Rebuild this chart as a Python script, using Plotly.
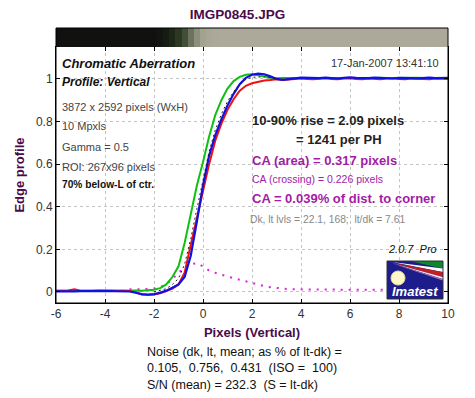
import plotly.graph_objects as go

# ---------------- data ----------------
x_px = [-6.0, -5.75, -5.5, -5.25, -5.0, -4.75, -4.5, -4.25, -4.0, -3.75, -3.5, -3.25,
        -3.0, -2.75, -2.5, -2.25, -2.0, -1.75, -1.5, -1.25, -1.0, -0.75, -0.5, -0.25,
        0.0, 0.25, 0.5, 0.75, 1.0, 1.25, 1.5, 1.75, 2.0, 2.25, 2.5, 2.75,
        3.0, 3.25, 3.5, 3.75, 4.0, 4.25, 4.5, 4.75, 5.0, 5.25, 5.5, 5.75,
        6.0, 6.25, 6.5, 6.75, 7.0, 7.25, 7.5, 7.75, 8.0, 8.25, 8.5, 8.75,
        9.0, 9.25, 9.5, 9.75, 10.0]

green = [0.006, 0.005, 0.007, 0.006, 0.005, 0.006, 0.007, 0.006, 0.006, 0.007, 0.006, 0.007,
         0.008, 0.007, 0.006, 0.008, 0.010, 0.018, 0.035, 0.070, 0.120, 0.230, 0.370, 0.500,
         0.610, 0.730, 0.830, 0.900, 0.955, 0.990, 1.010, 1.020, 1.022, 1.018, 1.012, 1.006,
         1.003, 1.004, 1.006, 1.005, 1.004, 1.006, 1.005, 1.003, 1.004, 1.006, 1.005, 1.004,
         1.005, 1.006, 1.004, 1.003, 1.005, 1.006, 1.004, 1.005, 1.006, 1.004, 1.005, 1.006,
         1.005, 1.004, 1.006, 1.005, 1.004]

red = [0.006, 0.005, 0.007, 0.012, 0.006, 0.005, 0.006, 0.005, 0.006, 0.005, 0.006, 0.005,
       0.004, -0.002, -0.012, -0.014, -0.012, -0.006, 0.004, 0.015, 0.035, 0.090, 0.220, 0.350,
       0.480, 0.600, 0.710, 0.790, 0.855, 0.905, 0.945, 0.968, 0.980, 0.988, 0.993, 0.995,
       0.998, 0.995, 0.997, 1.000, 1.002, 1.000, 0.998, 1.001, 1.003, 1.000, 0.998, 1.002,
       1.003, 1.000, 0.999, 1.002, 1.001, 0.999, 1.002, 1.003, 1.000, 0.998, 1.002, 1.001,
       1.000, 0.999, 1.002, 1.001, 1.000]

blue = [0.003, 0.002, 0.004, 0.003, 0.004, 0.003, 0.004, 0.005, 0.004, 0.005, 0.004, 0.003,
        0.002, -0.004, -0.010, -0.012, -0.010, -0.004, 0.006, 0.020, 0.035, 0.070, 0.170, 0.330,
        0.500, 0.640, 0.735, 0.810, 0.875, 0.930, 0.975, 1.005, 1.020, 1.025, 1.022, 1.012,
        1.000, 0.996, 0.998, 1.003, 1.006, 1.005, 1.003, 1.004, 1.006, 1.004, 1.002, 1.005,
        1.007, 1.005, 1.003, 1.004, 1.006, 1.005, 1.003, 1.002, 1.005, 1.006, 1.004, 1.003,
        1.005, 1.006, 1.004, 1.003, 1.005]

mean_x = [-2.0, -1.5, -1.25, -1.0, -0.75, -0.5, -0.25, 0.0, 0.25, 0.5, 0.75, 1.0,
          1.25, 1.5, 1.75, 2.0, 2.5, 3.0]
mean_y = [0.0, 0.015, 0.035, 0.063, 0.13, 0.25, 0.39, 0.53, 0.66, 0.76, 0.835, 0.895,
          0.94, 0.975, 0.998, 1.008, 1.01, 1.0]

ca_x = [-3.0, -2.75, -2.5, -2.25, -2.0, -1.75, -1.5, -1.25, -1.0, -0.75, -0.5, -0.25,
        0.0, 0.25, 0.5, 0.75, 1.0, 1.25, 1.5, 1.75, 2.0, 2.25, 2.5, 2.75,
        3.0, 3.25, 3.5, 4.0, 4.5, 5.0, 5.5, 6.0, 6.5, 7.0, 7.5, 8.0]
ca_y = [0.012, 0.012, 0.013, 0.014, 0.016, 0.022, 0.035, 0.060, 0.090, 0.115, 0.130, 0.135,
        0.120, 0.100, 0.090, 0.080, 0.072, 0.065, 0.057, 0.049, 0.041, 0.034, 0.027, 0.022,
        0.018, 0.015, 0.013, 0.012, 0.011, 0.010, 0.010, 0.010, 0.010, 0.010, 0.010, 0.010]

bar_level = [0.0, 0.0, 0.0, 0.0, 0.0, 0.0, 0.0, 0.0, 0.0, 0.0, 0.0, 0.0,
             0.0, 0.0, 0.0, 0.0, 0.0, 0.02, 0.06, 0.12, 0.20, 0.32, 0.48, 0.65,
             0.80, 0.92, 0.98, 1.0, 1.0, 1.0, 1.0, 1.0, 1.0, 1.0, 1.0, 1.0,
             1.0, 1.0, 1.0, 1.0, 1.0, 1.0, 1.0, 1.0, 1.0, 1.0, 1.0, 1.0,
             1.0, 1.0, 1.0, 1.0, 1.0, 1.0, 1.0, 1.0, 1.0, 1.0, 1.0, 1.0,
             1.0, 1.0, 1.0, 1.0, 1.0]

x_ticks = [-6, -4, -2, 0, 2, 4, 6, 8, 10]
x_tick_text = ["-6", "-4", "-2", "0", "2", "4", "6", "8", "10"]
y_ticks = [0, 0.2, 0.4, 0.6, 0.8, 1]
y_tick_text = ["0", "0.2", "0.4", "0.6", "0.8", "1"]

# ---------------- layout helpers ----------------
W, H = 475, 398
L, R, T, B = 56, 448, 28, 303
BAR_BOTTOM = 47


def px(x):
    return (x - L) / (R - L)


def py(y):
    return (B - y) / (B - T)


FONT = "Liberation Sans, Arial, sans-serif"
PURPLE = "#4a0a4a"
MAG = "#a21ca6"

fig = go.Figure()

fig.add_trace(go.Heatmap(x=x_px, y=[0.5], z=[bar_level], xaxis="x2", yaxis="y2",
                         colorscale=[[0, "#111110"], [0.1, "#1a2414"], [0.3, "#3e4a34"],
                                     [0.55, "#7f8270"], [0.8, "#a3a291"], [1, "#aca99a"]],
                         zmin=0, zmax=1, showscale=False, hoverinfo="skip"))

fig.add_trace(go.Scatter(x=ca_x, y=ca_y, mode="lines",
                         line=dict(color="#e020e0", width=2, dash="2px,6px")))
fig.add_trace(go.Scatter(x=x_px, y=green, mode="lines", line=dict(color="#10c010", width=2)))
fig.add_trace(go.Scatter(x=x_px, y=red, mode="lines", line=dict(color="#f01010", width=2)))
fig.add_trace(go.Scatter(x=x_px, y=blue, mode="lines", line=dict(color="#1010e0", width=2.2)))
fig.add_trace(go.Scatter(x=mean_x, y=mean_y, mode="lines",
                         line=dict(color="#202020", width=1, dash="2px,3px")))

main_top = py(BAR_BOTTOM)

fig.update_layout(
    width=W, height=H,
    margin=dict(l=L, r=W - R, t=T, b=H - B, autoexpand=False),
    paper_bgcolor="white", plot_bgcolor="white",
    showlegend=False,
    font=dict(family=FONT, size=12, color="#333"),
    xaxis=dict(range=[-6, 10], tickvals=x_ticks, ticktext=x_tick_text, ticks="inside",
               ticklen=4, tickcolor="black", automargin=False,
               showline=True, linecolor="black", linewidth=1, mirror="ticks",
               showgrid=True, gridcolor="#c4c4c4", griddash="dot", zeroline=False,
               tickfont=dict(size=12, color="#333"), anchor="y",
               title=dict(text="<b>Pixels (Vertical)</b>", font=dict(size=13, color=PURPLE),
                          standoff=7)),
    yaxis=dict(range=[-0.052, 1.15], tickvals=y_ticks, ticktext=y_tick_text, ticks="inside",
               ticklen=4, automargin=False,
               tickcolor="black", showline=True, linecolor="black", linewidth=1,
               mirror="ticks", showgrid=True, gridcolor="#c4c4c4", griddash="dot",
               zeroline=False, domain=[0, main_top], tickfont=dict(size=12, color="#333"),
               title=dict(text="<b>Edge profile</b>", font=dict(size=13, color=PURPLE),
                          standoff=8)),
    xaxis2=dict(range=[-6, 10], matches="x", anchor="y2", visible=False),
    yaxis2=dict(range=[0, 1], domain=[main_top, 1], visible=False, anchor="x2"),
    title=dict(text="<b>IMGP0845.JPG</b>", x=0.5, xanchor="center", y=1 - 14 / H,
               yanchor="middle", font=dict(size=13.5, color=PURPLE)),
)

shapes = []
# outer frame around bar + plot
shapes.append(dict(type="rect", xref="paper", yref="paper", x0=0, x1=1, y0=0, y1=1,
                   line=dict(color="black", width=1), layer="above"))


def path(points):
    s = "M " + " L ".join(f"{px(a):.4f},{py(b):.4f}" for a, b in points) + " Z"
    return s


# Imatest logo
shapes.append(dict(type="rect", xref="paper", yref="paper", x0=px(387), x1=px(443),
                   y0=py(299), y1=py(261), fillcolor="#1c1c8c",
                   line=dict(color="#333", width=1), layer="above"))
shapes.append(dict(type="path", xref="paper", yref="paper",
                   path=path([(412, 261.5), (442.5, 261.5), (442.5, 268.5)]),
                   fillcolor="#0e8a2a", line=dict(width=0), layer="above"))
shapes.append(dict(type="path", xref="paper", yref="paper",
                   path=path([(392, 262), (442.5, 268.5), (442.5, 272)]),
                   fillcolor="#ffffff", line=dict(width=0), layer="above"))
shapes.append(dict(type="path", xref="paper", yref="paper",
                   path=path([(392, 262.5), (442.5, 272), (442.5, 277)]),
                   fillcolor="#c81e1e", line=dict(width=0), layer="above"))
shapes.append(dict(type="path", xref="paper", yref="paper",
                   path=path([(392, 263), (442.5, 277), (442.5, 279)]),
                   fillcolor="#f4e8f0", line=dict(width=0), layer="above"))
shapes.append(dict(type="path", xref="paper", yref="paper",
                   path=path([(392, 263.5), (442.5, 279), (442.5, 280.5)]),
                   fillcolor="#a070b0", line=dict(width=0), layer="above"))
shapes.append(dict(type="circle", xref="paper", yref="paper", x0=px(391), x1=px(405),
                   y0=py(285), y1=py(271), fillcolor="#fff8c8",
                   line=dict(color="#e8e0a0", width=1), layer="above"))
fig.update_layout(shapes=shapes)

ann = []


def text(x, y, s, size=11, color="#333", anchor="left", bold=False, italic=False):
    if bold:
        s = f"<b>{s}</b>"
    if italic:
        s = f"<i>{s}</i>"
    ann.append(dict(x=px(x), y=py(y), xref="paper", yref="paper", text=s, showarrow=False,
                    xanchor=anchor, yanchor="middle",
                    font=dict(size=size, color=color, family=FONT)))


text(60, 63, "Chromatic Aberration", size=13, color="#111", bold=True, italic=True)
text(60, 82, "Profile: Vertical", size=12, color="#111", bold=True, italic=True)
text(60, 107, "3872 x 2592 pixels (WxH)", size=11, color="#444")
text(60, 126, "10 Mpxls", size=11, color="#444")
text(60, 147, "Gamma = 0.5", size=11, color="#444")
text(60, 167, "ROI: 267x96 pixels", size=11, color="#444")
text(60, 184, "70% below-L of ctr.", size=10.2, color="#111", bold=True)
text(441, 63, "17-Jan-2007 13:41:10", size=11, color="#333", anchor="right")
text(250, 121, "10-90% rise = 2.09 pixels", size=13, color="#222", bold=True)
text(294, 139, "= 1241 per PH", size=13, color="#222", bold=True)
text(250, 160, "CA (area) = 0.317 pixels", size=13, color=MAG, bold=True)
text(250, 179, "CA (crossing) = 0.226 pixels", size=10.5, color=MAG)
text(250, 198, "CA = 0.039% of dist. to corner", size=13, color=MAG, bold=True)
text(248, 219, "Dk, lt lvls = 22.1, 168;  lt/dk = 7.61", size=10.3, color="#888")
text(439, 249, "2.0.7  Pro", size=11, color="#111", anchor="right", italic=True)
text(415, 291, "Imatest", size=13, color="#ffffff", anchor="center", bold=True, italic=True)

text(145, 352, "Noise (dk, lt, mean; as % of lt-dk) =", size=12.5, color="#111")
text(145, 368, "0.105,  0.756,  0.431  (ISO =  100)", size=12.5, color="#111")
text(145, 385, "S/N (mean) = 232.3  (S = lt-dk)", size=12.5, color="#111")

fig.update_layout(annotations=ann)

fig.write_html("out.html", config={"displayModeBar": False},
               post_script="document.body.style.margin='0';document.body.style.padding='0';")
